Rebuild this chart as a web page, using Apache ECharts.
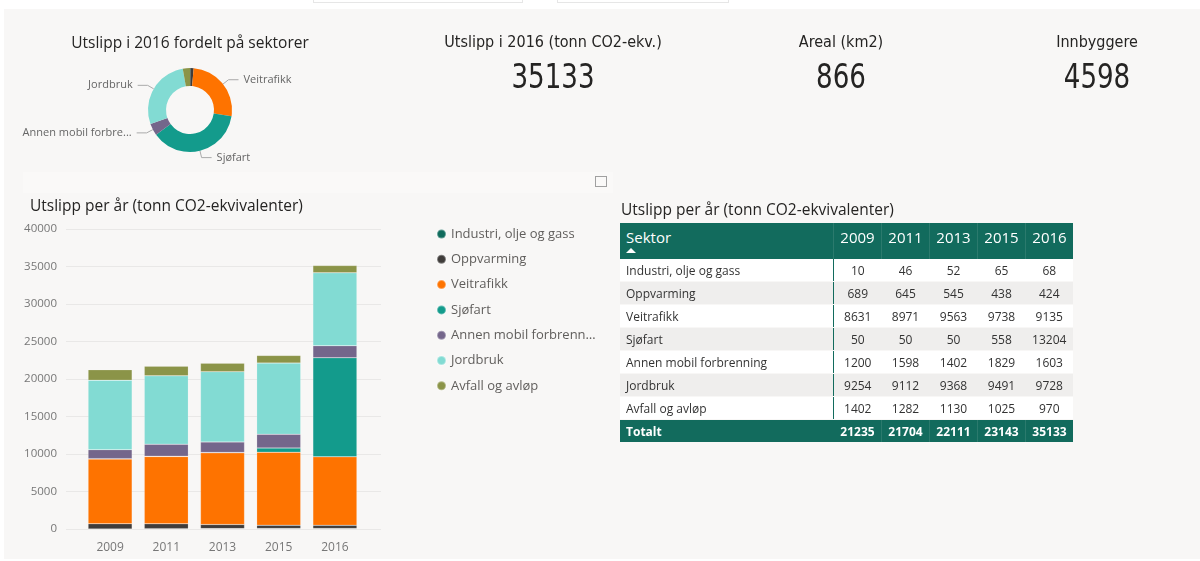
<!DOCTYPE html>
<html>
<head>
<meta charset="utf-8">
<script src="https://cdn.jsdelivr.net/npm/echarts@6/dist/echarts.min.js"></script>
<style>
  body { margin: 0; width: 1200px; height: 561px; background: #fff; position: relative; overflow: hidden;
         font-family: 'Segoe UI', 'Open Sans', sans-serif; }
  .slicer { position: absolute; top: -2px; height: 3px; background: #fff; border: 1px solid #e6e6e6; }
  .panel { position: absolute; left: 4px; top: 9px; width: 1196px; height: 550px; background: #f8f7f6; }
  .visual-head { position: absolute; left: 23px; top: 172px; width: 590px; height: 21px; background: #faf9f8; }
  .expand { position: absolute; left: 595px; top: 176px; width: 10px; height: 9px; border: 1px solid #a0a0a0; }
  #main { position: absolute; left: 0; top: 0; width: 1200px; height: 561px; }
  .tbl-title { position: absolute; left: 621px; top: 198px; font-size: 15.5px; color: #252423; }
  #tbl { position: absolute; left: 620px; top: 223px; width: 453px; border-collapse: collapse; font-size: 12px; color: #333; }
  #tbl th { background: #126b5d; color: #fff; font-weight: normal; font-size: 15px; height: 36px; padding: 0;
            text-align: center; vertical-align: top; line-height: 28px; border-left: 1px solid #2b7a6d; }
  #tbl th.sektor { text-align: left; padding-left: 6px; border-left: none; position: relative; }
  #tbl th.sektor:after { content: ''; position: absolute; left: 6px; top: 25px; border-left: 5px solid transparent;
            border-right: 5px solid transparent; border-bottom: 5px solid #fff; }
  #tbl td { height: 22px; padding: 0; text-align: center; border-bottom: 1px solid #f8f7f6; }
  #tbl td.name { text-align: left; padding-left: 6px; border-right: 1px solid #126b5d; }
  #tbl tr.odd td { background: #fff; }
  #tbl tr.even td { background: #efeeed; }
  #tbl tr.total td { background: #126b5d; color: #fff; font-weight: bold; height: 22px; border-left: 1px solid #2b7a6d; }
  #tbl tr.total td.name { border-left: none; }
</style>
</head>
<body>
<div class="slicer" style="left:313px;width:208px"></div>
<div class="slicer" style="left:557px;width:170px"></div>
<div class="panel"></div>
<div class="visual-head"></div>
<div class="expand"></div>
<div id="main"></div>
<div class="tbl-title">Utslipp per år (tonn CO2-ekvivalenter)</div>
<table id="tbl"></table>
<script>
  // data lest av bildet
  var years = ['2009', '2011', '2013', '2015', '2016'];
  var sectors = ['Industri, olje og gass', 'Oppvarming', 'Veitrafikk', 'Sjøfart',
                 'Annen mobil forbrenning', 'Jordbruk', 'Avfall og avløp'];
  var industri = [10, 46, 52, 65, 68];
  var oppvarming = [689, 645, 545, 438, 424];
  var veitrafikk = [8631, 8971, 9563, 9738, 9135];
  var sjofart = [50, 50, 50, 558, 13204];
  var annenMobil = [1200, 1598, 1402, 1829, 1603];
  var jordbruk = [9254, 9112, 9368, 9491, 9728];
  var avfall = [1402, 1282, 1130, 1025, 970];
  var totalt = [21235, 21704, 22111, 23143, 35133];
  var yTicks = [0, 5000, 10000, 15000, 20000, 25000, 30000, 35000, 40000];
  var kpiLabels = ['Utslipp i 2016 (tonn CO2-ekv.)', 'Areal (km2)', 'Innbyggere'];
  var kpiValues = [35133, 866, 4598];

  var colors = ['#0f6b5c', '#3f3c3a', '#fe7300', '#139b8c', '#74668b', '#82dbd3', '#8b9448'];
  var values = [industri, oppvarming, veitrafikk, sjofart, annenMobil, jordbruk, avfall];

  // tabellen
  var tbl = document.getElementById('tbl');
  var html = '<tr><th class="sektor">Sektor</th>';
  years.forEach(function (y) { html += '<th style="width:47px">' + y + '</th>'; });
  html += '</tr>';
  sectors.forEach(function (s, i) {
    html += '<tr class="' + (i % 2 === 0 ? 'odd' : 'even') + '"><td class="name">' + s + '</td>';
    values[i].forEach(function (v) { html += '<td>' + v + '</td>'; });
    html += '</tr>';
  });
  html += '<tr class="total"><td class="name">Totalt</td>';
  totalt.forEach(function (v) { html += '<td>' + v + '</td>'; });
  html += '</tr>';
  tbl.innerHTML = html;

  var myChart = echarts.init(document.getElementById('main'));

  var barSeries = sectors.map(function (name, i) {
    return {
      name: name,
      type: 'bar',
      stack: 'total',
      xAxisIndex: 0,
      yAxisIndex: 0,
      barWidth: 44,
      data: values[i],
      itemStyle: {color: colors[i], borderColor: 'rgba(255,255,255,0.35)', borderWidth: 0.5}
    };
  });

  var pieData = sectors.map(function (name, i) {
    return {name: name, value: values[i][years.length - 1], itemStyle: {color: colors[i]}};
  });

  var kpiX = [553, 841, 1097];
  var graphics = [];
  kpiLabels.forEach(function (t, i) {
    graphics.push({type: 'text', x: kpiX[i], y: 43,
      style: {text: t, align: 'center', verticalAlign: 'middle', fill: '#252423',
              font: '16px "DejaVu Sans Condensed", sans-serif'}});
    graphics.push({type: 'text', x: kpiX[i], y: 79, scaleX: 0.88,
      style: {text: String(kpiValues[i]), align: 'center', verticalAlign: 'middle', fill: '#252423',
              font: '33px "DejaVu Sans Condensed", sans-serif'}});
  });
  graphics.push({type: 'text', x: 190, y: 44,
    style: {text: 'Utslipp i 2016 fordelt på sektorer', align: 'center', verticalAlign: 'middle',
            fill: '#252423', font: '15.5px "Segoe UI", "Open Sans", sans-serif'}});
  graphics.push({type: 'text', x: 30, y: 207,
    style: {text: 'Utslipp per år (tonn CO2-ekvivalenter)', align: 'left', verticalAlign: 'middle',
            fill: '#252423', font: '15.5px "Segoe UI", "Open Sans", sans-serif'}});

  myChart.setOption({
    animation: false,
    textStyle: {fontFamily: '"Segoe UI", "Open Sans", sans-serif'},
    graphic: graphics,
    legend: {
      data: sectors,
      orient: 'vertical',
      left: 431,
      top: 221,
      icon: 'circle',
      itemWidth: 9,
      itemHeight: 9,
      itemGap: 9.3,
      textStyle: {fontSize: 13, color: '#605e5c', lineHeight: 16, width: 150, overflow: 'truncate', ellipsis: '…'}
    },
    grid: [
      {left: 82, top: 229, width: 281, height: 300},
      {left: 66, top: 229, width: 315, height: 300}
    ],
    xAxis: [
      {
        type: 'category',
        gridIndex: 0,
        data: years,
        axisLine: {show: false},
        axisTick: {show: false},
        axisLabel: {color: '#777', fontSize: 12, margin: 13}
      },
      {type: 'value', gridIndex: 1, show: false, min: 0, max: 1}
    ],
    yAxis: [
      {
        type: 'value',
        gridIndex: 0,
        min: 0,
        max: yTicks[yTicks.length - 1],
        interval: yTicks[1] - yTicks[0],
        splitLine: {show: false},
        axisLine: {show: false},
        axisTick: {show: false},
        axisLabel: {color: '#777', fontSize: 11.5, margin: 25, formatter: function (v) { return String(v); }}
      },
      {
        type: 'value',
        gridIndex: 1,
        z: 0,
        min: 0,
        max: yTicks[yTicks.length - 1],
        interval: yTicks[1] - yTicks[0],
        axisLabel: {show: false},
        axisLine: {show: false},
        axisTick: {show: false},
        splitLine: {lineStyle: {color: '#e9e8e7', width: 1}}
      }
    ],
    series: barSeries.concat([{
      type: 'pie',
      center: [190, 110],
      radius: [24, 42],
      startAngle: 90,
      minShowLabelAngle: 12,
      data: pieData,
      label: {color: '#666', fontSize: 11, width: 118, overflow: 'truncate', ellipsis: '...'},
      labelLine: {length: 7, length2: 10, lineStyle: {color: '#aaa'}}
    }])
  });
</script>
</body>
</html>
